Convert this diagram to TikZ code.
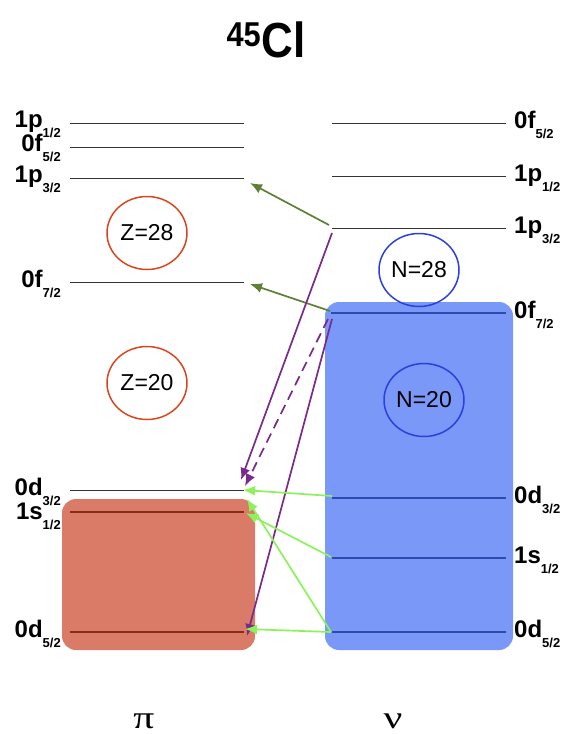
\documentclass[tikz,border=0pt]{standalone}
\usepackage{fontspec}
\setmainfont{Liberation Sans}
\newfontfamily\greekserif{Liberation Serif}
\usetikzlibrary{arrows.meta,shapes.geometric}
\definecolor{protonfill}{HTML}{D97B66}
\definecolor{neutronfill}{HTML}{7A98F8}
\definecolor{redring}{HTML}{D9461E}
\definecolor{bluering}{HTML}{2B3FE0}
\definecolor{olivearrow}{HTML}{5F7F35}
\definecolor{limearrow}{HTML}{8CF25A}
\definecolor{purplearrow}{HTML}{7A2A8A}
\definecolor{redlevel}{HTML}{8B2A1A}
\definecolor{bluelevel}{HTML}{2B4BB0}
\newcommand\lvlab[2]{\fontsize{24}{24}\selectfont\bfseries #1\raisebox{-10pt}{\fontsize{13}{13}\selectfont\bfseries #2}}
\begin{document}
\begin{tikzpicture}[x=1pt,y=-1pt,
  levelline/.style={line width=1pt,draw=black!80},
  redline/.style={line width=1.1pt,draw=redlevel},
  blueline/.style={line width=1.1pt,draw=bluelevel},
  leftlab/.style={anchor=base east,inner sep=0pt},
  rightlab/.style={anchor=base west,inner sep=0pt},
  ring/.style={ellipse,draw,line width=1.5pt,minimum width=80pt,minimum height=73pt,inner sep=0pt,font=\fontsize{23}{23}\selectfont},
  tipped/.style={-{Latex[length=12pt,width=10pt]},line width=1.7pt},
  shellbox/.style={rounded corners=14pt}
]
\useasboundingbox (0,0) rectangle (567,734);
% filled shells
\fill[protonfill,shellbox] (62,499) rectangle (255,650);
\fill[neutronfill,shellbox] (325,302) rectangle (513,650);
% title
\node[anchor=base,inner sep=0pt] (title) at (266,57) {\bfseries\scalebox{1}[1.12]{\fontsize{44}{44}\selectfont\textsuperscript{45}Cl}};
% proton levels
\coordinate (pA1) at (70,123); \coordinate (pA2) at (244,123);
\coordinate (pB1) at (70,147); \coordinate (pB2) at (244,147);
\coordinate (pC1) at (70,178); \coordinate (pC2) at (244,178);
\coordinate (pD1) at (70,282); \coordinate (pD2) at (244,282);
\coordinate (pE1) at (70,490); \coordinate (pE2) at (244,490);
\coordinate (pF1) at (70,512); \coordinate (pF2) at (244,512);
\coordinate (pG1) at (70,632); \coordinate (pG2) at (244,632);
\draw[levelline] (pA1) -- (pA2);
\draw[levelline] (pB1) -- (pB2);
\draw[levelline] (pC1) -- (pC2);
\draw[levelline] (pD1) -- (pD2);
\draw[levelline] (pE1) -- (pE2);
\draw[redline] (pF1) -- (pF2);
\draw[redline] (pG1) -- (pG2);
\node[leftlab] (lpA) at (61,127) {\lvlab{1p}{1/2}};
\node[leftlab] (lpB) at (61,151) {\lvlab{0f}{5/2}};
\node[leftlab] (lpC) at (61,182) {\lvlab{1p}{3/2}};
\node[leftlab] (lpD) at (61,287) {\lvlab{0f}{7/2}};
\node[leftlab] (lpE) at (61,495) {\lvlab{0d}{3/2}};
\node[leftlab] (lpF) at (61,519) {\lvlab{1s}{1/2}};
\node[leftlab] (lpG) at (61,637) {\lvlab{0d}{5/2}};
% neutron levels
\coordinate (nA1) at (332,123); \coordinate (nA2) at (506,123);
\coordinate (nB1) at (332,176); \coordinate (nB2) at (506,176);
\coordinate (nC1) at (332,228); \coordinate (nC2) at (506,228);
\coordinate (nD1) at (331,313); \coordinate (nD2) at (506,313);
\coordinate (nE1) at (332,498); \coordinate (nE2) at (506,498);
\coordinate (nF1) at (332,558); \coordinate (nF2) at (506,558);
\coordinate (nG1) at (332,632); \coordinate (nG2) at (506,632);
\draw[levelline] (nA1) -- (nA2);
\draw[levelline] (nB1) -- (nB2);
\draw[levelline] (nC1) -- (nC2);
\draw[blueline] (nD1) -- (nD2);
\draw[blueline] (nE1) -- (nE2);
\draw[blueline] (nF1) -- (nF2);
\draw[blueline] (nG1) -- (nG2);
\node[rightlab] (lnA) at (514,128) {\lvlab{0f}{5/2}};
\node[rightlab] (lnB) at (514,181) {\lvlab{1p}{1/2}};
\node[rightlab] (lnC) at (514,233) {\lvlab{1p}{3/2}};
\node[rightlab] (lnD) at (514,318) {\lvlab{0f}{7/2}};
\node[rightlab] (lnE) at (514,503) {\lvlab{0d}{3/2}};
\node[rightlab] (lnF) at (514,563) {\lvlab{1s}{1/2}};
\node[rightlab] (lnG) at (514,637) {\lvlab{0d}{5/2}};
% magic-number rings
\node[ring,draw=redring] (z28) at (147,233) {Z=28};
\node[ring,draw=redring] (z20) at (147,383) {Z=20};
\node[ring,draw=bluering] (n28) at (419,270) {N=28};
\node[ring,draw=bluering] (n20) at (424,400) {N=20};
% arrow end points
\coordinate (oS1) at (329,225); \coordinate (oE1) at (250,183);
\coordinate (oS2) at (330,311); \coordinate (oE2) at (250,284);
\coordinate (uS1) at (332,233); \coordinate (uE1) at (241,480);
\coordinate (uS2) at (328,319); \coordinate (uE2) at (245,486);
\coordinate (uS3) at (332,319); \coordinate (uE3) at (247,636);
\coordinate (gS1) at (332,496); \coordinate (gE1) at (243,490);
\coordinate (gS2) at (331,557); \coordinate (gE2) at (246,513);
\coordinate (gS3) at (331,632); \coordinate (gE3) at (247,499);
\coordinate (gE4) at (245,629);
% arrows
\draw[tipped,olivearrow] (oS1) -- (oE1);
\draw[tipped,olivearrow] (oS2) -- (oE2);
\draw[tipped,purplearrow] (uS1) -- (uE1);
\draw[tipped,purplearrow,dash pattern=on 10pt off 6pt] (uS2) -- (uE2);
\draw[tipped,purplearrow] (uS3) -- (uE3);
\draw[tipped,limearrow] (gS1) -- (gE1);
\draw[tipped,limearrow] (gS2) -- (gE2);
\draw[tipped,limearrow] (gS3) -- (gE3);
\draw[tipped,limearrow] (gS3) -- (gE4);
% particle labels
\node[anchor=base,inner sep=0pt] (pi) at (144,728) {\greekserif\fontsize{32}{32}\selectfont\scalebox{1.3}[1]{π}};
\node[anchor=base,inner sep=0pt] (nu) at (393,728) {\greekserif\fontsize{32}{32}\selectfont\scalebox{1.3}[1]{ν}};
\end{tikzpicture}
\end{document}
